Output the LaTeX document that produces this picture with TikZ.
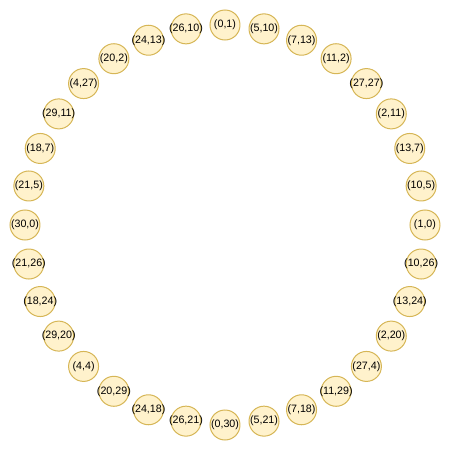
\documentclass[tikz,border=0pt]{standalone}
\usepackage{fontspec}
\setmainfont{Liberation Sans}
\usepackage{tikz}
\definecolor{PairFill}{HTML}{FFF2CC}
\definecolor{PairLine}{HTML}{D6B656}
\tikzset{pair/.style={circle, draw=PairLine, fill=PairFill, line width=1pt,
  minimum size=30pt, inner sep=0pt, font=\fontsize{10.7}{12}\selectfont,
  execute at begin node={\hbox to 0pt\bgroup\hss},
  execute at end node={\hss\egroup}}}

\begin{document}
\begin{tikzpicture}
\useasboundingbox (-225pt,-226pt) rectangle (226pt,225pt);

\node[pair] (p0) at (90:200pt) {(0,1)};
\node[pair] (p1) at (78.75:200pt) {(5,10)};
\node[pair] (p2) at (67.5:200pt) {(7,13)};
\node[pair] (p3) at (56.25:200pt) {(11,2)};
\node[pair] (p4) at (45:200pt) {(27,27)};
\node[pair] (p5) at (33.75:200pt) {(2,11)};
\node[pair] (p6) at (22.5:200pt) {(13,7)};
\node[pair] (p7) at (11.25:200pt) {(10,5)};

\node[pair] (p8) at (0:200pt) {(1,0)};
\node[pair] (p9) at (-11.25:200pt) {(10,26)};
\node[pair] (p10) at (-22.5:200pt) {(13,24)};
\node[pair] (p11) at (-33.75:200pt) {(2,20)};
\node[pair] (p12) at (-45:200pt) {(27,4)};
\node[pair] (p13) at (-56.25:200pt) {(11,29)};
\node[pair] (p14) at (-67.5:200pt) {(7,18)};
\node[pair] (p15) at (-78.75:200pt) {(5,21)};

\node[pair] (p16) at (-90:200pt) {(0,30)};
\node[pair] (p17) at (-101.25:200pt) {(26,21)};
\node[pair] (p18) at (-112.5:200pt) {(24,18)};
\node[pair] (p19) at (-123.75:200pt) {(20,29)};
\node[pair] (p20) at (-135:200pt) {(4,4)};
\node[pair] (p21) at (-146.25:200pt) {(29,20)};
\node[pair] (p22) at (-157.5:200pt) {(18,24)};
\node[pair] (p23) at (-168.75:200pt) {(21,26)};

\node[pair] (p24) at (180:200pt) {(30,0)};
\node[pair] (p25) at (168.75:200pt) {(21,5)};
\node[pair] (p26) at (157.5:200pt) {(18,7)};
\node[pair] (p27) at (146.25:200pt) {(29,11)};
\node[pair] (p28) at (135:200pt) {(4,27)};
\node[pair] (p29) at (123.75:200pt) {(20,2)};
\node[pair] (p30) at (112.5:200pt) {(24,13)};
\node[pair] (p31) at (101.25:200pt) {(26,10)};

%\draw (p0) -- (p16);
\end{tikzpicture}
\end{document}
